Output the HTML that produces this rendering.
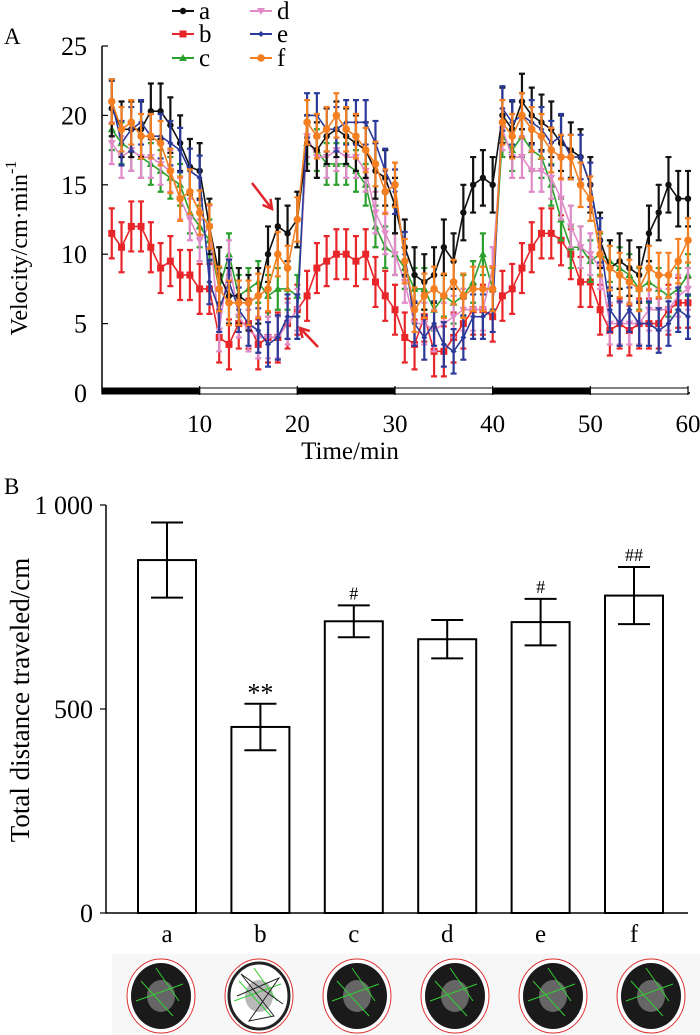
<!DOCTYPE html>
<html><head><meta charset="utf-8"><style>
body{margin:0;background:#fff}
svg{display:block;font-family:"Liberation Serif",serif}
</style></head><body>
<svg id="chart" width="700" height="1035" viewBox="0 0 700 1035" xmlns="http://www.w3.org/2000/svg">
<g id="topPanel"></g>
<g id="botPanel"></g>
</svg>
<script>
// ---- Panel A data ----
const minutes = Array.from({length:60},(_,i)=>i+1);
const seriesNames = ['a','b','c','d','e','f'];
const velA = [20.5,19,19,19,20.3,20.3,19.3,18,16.3,16,12,8.5,7,7,6.5,7,10,12,11.5,12.5,18,17.5,18.5,19,18.5,18,17.5,16,15.5,13.5,10.5,8.5,8,8.5,10.5,9.5,13,15,15.5,15,20,19,21,20,19.5,19,18,17.5,17,15,11,9,9.5,9,8.5,11.5,13,15,14,14];
const velB = [11.5,10.5,12,12,10.5,9,9.5,8.5,8.5,7.5,7.5,4,3.5,5,5,3.5,4,4,5,6,7,9,9.5,10,10,9.5,10,8,7,6,4,3.5,5.5,3,3,4,5,6,6,5.5,7,7.5,9,10.5,11.5,11.5,11,10,8,8,6,4.5,5,4.5,5,5,5,6,6.5,6.5];
const velC = [19,18,17.5,17,16.5,16,15.5,15,13,12,11,7.5,10,7,7.5,8,7,7.5,7.5,7,18,17.5,16.5,16.5,16.5,16,15,12,10.5,10,9,7.5,7.5,6,7,6.5,7,8,10,7.5,18.5,17.5,18.5,17.5,17,15,12.5,10.5,10.5,9.5,10,9.5,9,8.5,7.5,8,7.5,7,7.5,8.5];
const velD = [18,17,17.5,17,17,16.5,16,14,12.5,11,12,4.5,9.5,5.5,4.5,4,4,4,5,6,18.5,17,17,17.5,17,17,16,13,11.5,10,8,5,5,4.5,5,5.5,6,6,6,9,19,17,17,16,16,15.5,14,12,10.5,10,9,5,5,5,5,6,6,6,7,7.5];
const velE = [21,18,19,19.5,18.5,18.5,18,17.5,16,15.5,8,6,8,6,5,4.5,3.5,4,5.5,5.5,20,20,19,19,19.5,19.5,19.5,18,16,14.5,10,5,4,5,3.5,3,4,5.5,5.5,6,20.5,19.5,20,19.5,19,18,18.5,17,17,15,11,6,5,6,5,5,4.5,5,6,5.5];
const velF = [21,19,19.5,18.5,18.5,18,16,14,14.5,13,12,7.5,6.5,6.5,6.5,7,7.5,10,9,12.5,19.5,18.5,19,20,19,18.5,17.5,16.5,14.5,15,9.5,6,7,7.5,7,8,7,7.5,7.5,7.5,19.5,18.5,20,19,18.5,17.5,17,17,15,14,10,9,8.5,8,7.5,9,8.5,8.5,9.5,11];
const semAll = [2,1.8,1.5,1.5,1.6,1.6];
const yTicksA = [0,5,10,15,20,25];
const xTicksA = [10,20,30,40,50,60];
// ---- Panel B data ----
const groups = ['a','b','c','d','e','f'];
const distance = [865,456,715,671,713,778];
const distErr = [92,57,39,47,57,70];
const sigMarks = ['','**','#','','#','##'];
const yTicksB = [0,500,1000];

const NS='http://www.w3.org/2000/svg';
function mk(parent,tag,attrs,text){const e=document.createElementNS(NS,tag);for(const k in attrs)e.setAttribute(k,attrs[k]);if(text!==undefined)e.textContent=text;parent.appendChild(e);return e;}

// ---- Panel A ----
const topG=document.getElementById('topPanel');
const xA=m=>102+m*(586/60);
const yA=v=>393-v*(347/25);
const colors=['#111','#e8262a','#2ca02c','#e08ac8','#2b3a9a','#f57f20'];
const vel=[velA,velB,velC,velD,velE,velF];
let t=mk(topG,'text',{x:4,y:44,'font-size':23},'A');


let ax=mk(topG,'path',{d:`M102 46V393H690`,stroke:'#000','stroke-width':1.5,fill:'none'});


yTicksA.forEach(v=>{
  mk(topG,'line',{x1:102,x2:108,y1:yA(v),y2:yA(v),stroke:'#000','stroke-width':1.2});
  const l=mk(topG,'text',{x:87,y:yA(v)+9,'font-size':26,'text-anchor':'end'},v);
  
  
});
for(let i=0;i<6;i++){
  const r=mk(topG,'rect',{x:xA(i*10),y:388,width:xA(10)-xA(0),height:6,fill:i%2===0?'#000':'#fff',stroke:'#000','stroke-width':1});
  
  
}
xTicksA.forEach(v=>{
  mk(topG,'line',{x1:xA(v),x2:xA(v),y1:386,y2:395,stroke:'#000','stroke-width':1.2});
  const l=mk(topG,'text',{x:xA(v),y:432,'font-size':25,'text-anchor':'middle'},v);
  
  
});
t=mk(topG,'text',{x:350,y:459,'font-size':25,'text-anchor':'middle'},'Time/min');


t=mk(topG,'text',{x:0,y:0,'font-size':24,'text-anchor':'middle',transform:'translate(27,248) rotate(-90)'});


t.innerHTML='Velocity/cm·min<tspan dy="-11" font-size="16">-1</tspan>';

function marker(g,i,x,y){
  const c=colors[i];let m;
  if(i===0)m=mk(g,'circle',{cx:x,cy:y,r:3.2,fill:c});
  else if(i===1)m=mk(g,'rect',{x:x-3.5,y:y-3.5,width:7,height:7,fill:c});
  else if(i===2)m=mk(g,'path',{d:`M${x} ${y-4}L${x+4} ${y+3}L${x-4} ${y+3}Z`,fill:c});
  else if(i===3)m=mk(g,'path',{d:`M${x} ${y+4}L${x+4} ${y-3}L${x-4} ${y-3}Z`,fill:c});
  else if(i===4)m=mk(g,'path',{d:`M${x} ${y-3}L${x+3} ${y}L${x} ${y+3}L${x-3} ${y}Z`,fill:c});
  else m=mk(g,'circle',{cx:x,cy:y,r:3.8,fill:c});
  return m;
}
const order=[1,2,3,0,4,5];
order.forEach(i=>{
  const g=mk(topG,'g',{});
  
  
  const c=colors[i];
  vel[i].forEach((v,k)=>{
    const x=xA(minutes[k]),e=semAll[i];
    const y1=yA(v+e),y2=yA(v-e);
    const eb=mk(g,'path',{d:`M${x} ${y1}V${y2}M${x-3} ${y1}H${x+3}M${x-3} ${y2}H${x+3}`,stroke:c,'stroke-width':2.2,fill:'none'});
    
    
  });
  const pts=vel[i].map((v,k)=>xA(minutes[k])+','+yA(v)).join(' ');
  const pl=mk(g,'polyline',{points:pts,stroke:c,'stroke-width':1.6,fill:'none'});
  
  
  vel[i].forEach((v,k)=>{
    const m=marker(g,i,xA(minutes[k]),yA(v));
    
    
  });
});
[[252,183,272,209],[318,347,300,328]].forEach(a=>{
  const g=mk(topG,'g',{stroke:'#e0262a','stroke-width':2.5,fill:'none'});
  
  
  mk(g,'line',{x1:a[0],y1:a[1],x2:a[2],y2:a[3]});
  const dx=a[2]-a[0],dy=a[3]-a[1],L=Math.hypot(dx,dy),ux=dx/L,uy=dy/L;
  const hx=a[2]-ux*9,hy=a[3]-uy*9;
  mk(g,'path',{d:`M${hx-uy*5} ${hy+ux*5}L${a[2]} ${a[3]}L${hx+uy*5} ${hy-ux*5}`});
});
const legPos=[[172,11],[172,34],[172,58],[250,11],[250,34],[250,58]];
seriesNames.forEach((n,i)=>{
  const g=mk(topG,'g',{});
  
  
  const [x,y]=legPos[i];
  mk(g,'line',{x1:x,x2:x+22,y1:y,y2:y,stroke:colors[i],'stroke-width':2});
  marker(g,i,x+11,y);
  mk(g,'text',{x:x+27,y:y+8,'font-size':25},n);
});

// ---- Panel B ----
const botG=document.getElementById('botPanel');
const yB=v=>913-v*(408/1000);
const xB=i=>167+i*93.4;
t=mk(botG,'text',{x:4,y:494,'font-size':23},'B');


ax=mk(botG,'path',{d:`M106 ${yB(1000)}V${yB(0)}H688`,stroke:'#000','stroke-width':1.5,fill:'none'});


yTicksB.forEach(v=>{
  mk(botG,'line',{x1:100,x2:106,y1:yB(v),y2:yB(v),stroke:'#000','stroke-width':1.2});
  const l=mk(botG,'text',{x:93,y:yB(v)+9,'font-size':26,'text-anchor':'end'},v===1000?'1 000':v);
  
  
});
t=mk(botG,'text',{x:0,y:0,'font-size':27,'text-anchor':'middle',transform:'translate(29,700) rotate(-90)'},'Total distance traveled/cm');


groups.forEach((n,i)=>{
  const cx=xB(i),w=58;
  const b=mk(botG,'rect',{x:cx-w/2,y:yB(distance[i]),width:w,height:yB(0)-yB(distance[i]),fill:'#fff',stroke:'#000','stroke-width':2});
  
  
  const y1=yB(distance[i]+distErr[i]),y2=yB(distance[i]-distErr[i]);
  const e=mk(botG,'path',{d:`M${cx} ${y1}V${y2}M${cx-16} ${y1}H${cx+16}M${cx-16} ${y2}H${cx+16}`,stroke:'#000','stroke-width':2,fill:'none'});
  
  
  if(sigMarks[i]){
    const s=mk(botG,'text',{x:cx,y:y1-(sigMarks[i]==='**'?2:6),'font-size':sigMarks[i]==='**'?26:18,'text-anchor':'middle'},sigMarks[i]);
    
    
  }
  const l=mk(botG,'text',{x:cx,y:942,'font-size':25,'text-anchor':'middle'},n);
  
  
  const g=mk(botG,'g',{});
  
  
  const tx=161+i*98, ty=996;
  mk(g,'rect',{x:tx-49,y:954,width:98,height:81,fill:'#f7f7f7'});
  mk(g,'ellipse',{cx:tx,cy:ty,rx:34,ry:37,fill:'#fff',stroke:'#e03030','stroke-width':1});
  mk(g,'ellipse',{cx:tx,cy:ty,rx:30,ry:33,fill:i===1?'#fff':'#1a1a1a',stroke:i===1?'#222':'none','stroke-width':3});
  mk(g,'ellipse',{cx:tx,cy:ty,rx:14,ry:16,fill:i===1?'#888':'#999',opacity:0.6});
  mk(g,'path',{d:`M${tx-20} ${ty-15}L${tx+12} ${ty+20}M${tx-5} ${ty-28}L${tx+18} ${ty+5}M${tx-25} ${ty+5}L${tx+22} ${ty-12}`,stroke:'#3c3','stroke-width':1,fill:'none'});
  if(i===1){
    const sc=mk(g,'path',{d:`M${tx-22} ${ty}L${tx+20} ${ty-18}L${tx-10} ${ty+25}L${tx+15} ${ty+20}L${tx-18} ${ty-22}L${tx+24} ${ty+8}`,stroke:'#222','stroke-width':1,fill:'none'});
    
    
  }
});
</script>
</body></html>
